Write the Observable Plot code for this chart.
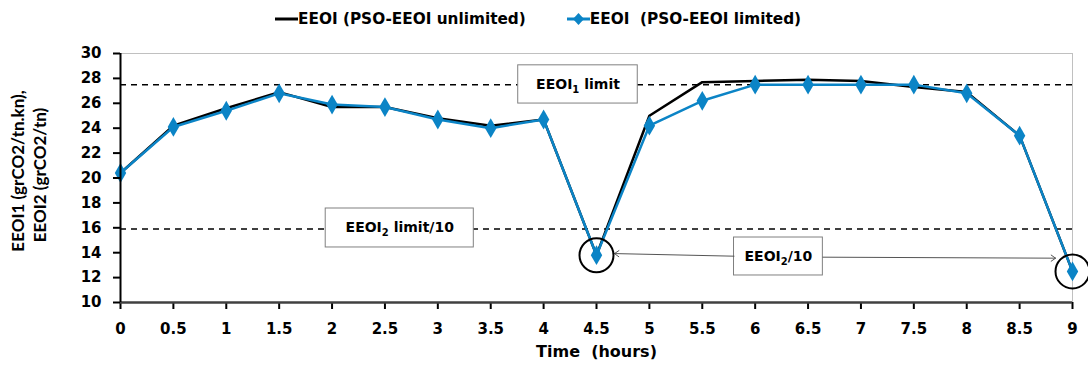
<!DOCTYPE html>
<html>
<head>
<meta charset="utf-8">
<script src="https://cdn.jsdelivr.net/npm/d3@7"></script>
<script src="https://cdn.jsdelivr.net/npm/@observablehq/plot@0.6"></script>
<style>
  body { margin: 0; background: white; font-family: "DejaVu Sans", sans-serif; }
  #legend { height: 38px; display: flex; align-items: center; padding-left: 275px; font-weight: bold; font-size: 15.3px; color: black; white-space: pre; }
  #legend .item { display: flex; align-items: center; }
  #legend .item + .item { margin-left: 41px; }
  svg text { white-space: pre; }
</style>
</head>
<body>
<div id="legend"></div>
<div id="chart"></div>
<script>
// ---- data ----
const hours = [0, 0.5, 1, 1.5, 2, 2.5, 3, 3.5, 4, 4.5, 5, 5.5, 6, 6.5, 7, 7.5, 8, 8.5, 9];
const eeoiUnlimited = [20.4, 24.2, 25.6, 26.9, 25.7, 25.7, 24.8, 24.2, 24.7, 13.8, 25.0, 27.7, 27.8, 27.9, 27.8, 27.3, 26.9, 23.4, 12.5];
const eeoiLimited   = [20.4, 24.1, 25.4, 26.8, 25.9, 25.7, 24.7, 24.0, 24.7, 13.8, 24.2, 26.2, 27.5, 27.5, 27.5, 27.5, 26.8, 23.4, 12.5];
const seriesNames = ["EEOI (PSO-EEOI unlimited)", "EEOI  (PSO-EEOI limited)"];
const xTicks = [0, 0.5, 1, 1.5, 2, 2.5, 3, 3.5, 4, 4.5, 5, 5.5, 6, 6.5, 7, 7.5, 8, 8.5, 9];
const yTicks = [10, 12, 14, 16, 18, 20, 22, 24, 26, 28, 30];
const limitLevels = [27.5, 15.9];
const yLabelLines = ["EEOI1 (grCO2/tn.kn),", "EEOI2 (grCO2/tn)"];
const xLabel = "Time  (hours)";
// annotation boxes (data units)
const boxLabels = ["EEOI_1 limit", "EEOI_2 limit/10", "EEOI_2/10"];
const boxX1 = [3.76, 1.94, 5.80];
const boxX2 = [4.89, 3.34, 6.64];
const boxY1 = [29.05, 17.55, 15.22];
const boxY2 = [25.98, 14.42, 12.17];
// callout circles and arrows (data units)
const circleX = [4.5, 9];
const circleY = [13.8, 12.5];
const arrowX1 = [5.80, 6.64];
const arrowY1 = [13.72, 13.64];
const arrowX2 = [4.67, 8.84];
const arrowY2 = [13.93, 13.56];

const BLUE = "#0b84c6";
const FONT = "'DejaVu Sans', sans-serif";

// ---- tables ----
const unl = hours.map((h, i) => ({x: h, y: eeoiUnlimited[i]}));
const lim = hours.map((h, i) => ({x: h, y: eeoiLimited[i]}));
const boxes = boxLabels.map((t, i) => ({t, x1: boxX1[i], x2: boxX2[i], y1: boxY1[i], y2: boxY2[i], cx: (boxX1[i] + boxX2[i]) / 2, cy: (boxY1[i] + boxY2[i]) / 2}));
const circles = circleX.map((x, i) => ({x, y: circleY[i]}));
const arrows = arrowX1.map((x1, i) => ({x1, y1: arrowY1[i], x2: arrowX2[i], y2: arrowY2[i]}));

// ---- legend ----
const legend = document.getElementById("legend");
legend.innerHTML = `
  <div class="item"><svg width="23" height="10"><line x1="0" y1="5" x2="23" y2="5" stroke="black" stroke-width="3"/></svg><span>${seriesNames[0]}</span></div>
  <div class="item"><svg width="23" height="14"><line x1="0" y1="7" x2="23" y2="7" stroke="${BLUE}" stroke-width="3"/><path d="M11.5,1L17,7L11.5,13L6,7Z" fill="${BLUE}"/></svg><span>${seriesNames[1]}</span></div>`;

// ---- chart ----
const chart = Plot.plot({
  width: 1088,
  height: 329,
  marginTop: 15,
  marginBottom: 65,
  marginLeft: 120,
  marginRight: 16,
  x: {domain: [0, 9]},
  y: {domain: [10, 30]},
  style: {fontFamily: FONT, fontSize: "15px", fontWeight: "bold", color: "black", background: "white"},
  marks: [
    Plot.ruleY([30], {stroke: "#c0c0c0", strokeWidth: 1}),
    Plot.ruleX([9], {stroke: "#c0c0c0", strokeWidth: 1}),
    Plot.ruleY(limitLevels, {stroke: "black", strokeWidth: 1.5, strokeDasharray: "6,5"}),
    Plot.rect(boxes, {x1: "x1", x2: "x2", y1: "y1", y2: "y2", fill: "white", stroke: "#808080", strokeWidth: 1}),
    Plot.text(boxes, {x: "cx", y: "cy", text: "t", fontSize: 14, fontWeight: "bold", fill: "black"}),
    Plot.arrow(arrows, {x1: "x1", y1: "y1", x2: "x2", y2: "y2", stroke: "#555", strokeWidth: 1, headLength: 8, headAngle: 70}),
    Plot.line(unl, {x: "x", y: "y", stroke: "black", strokeWidth: 2.5}),
    Plot.line(lim, {x: "x", y: "y", stroke: BLUE, strokeWidth: 2.5}),
    Plot.dot(lim, {x: "x", y: "y", symbol: "diamond", r: 6, fill: BLUE, stroke: "none"}),
    Plot.dot(circles, {x: "x", y: "y", r: 17, fill: "none", stroke: "black", strokeWidth: 2}),
    Plot.axisX({ticks: xTicks, tickSize: 7, tickPadding: 14, strokeWidth: 2, tickFormat: d => String(d), label: null, fontSize: 15}),
    Plot.axisY({ticks: yTicks, tickSize: 7, tickPadding: 12, strokeWidth: 2, label: null, fontSize: 15}),
    Plot.ruleY([10], {stroke: "#404040", strokeWidth: 2.5}),
    Plot.ruleX([0], {stroke: "black", strokeWidth: 2}),
    Plot.text([yLabelLines[0]], {frameAnchor: "left", textAnchor: "middle", rotate: -90, dx: -102, dy: -7, fontFamily: "Lato, sans-serif", fontSize: 17, fontWeight: "bold", fill: "black"}),
    Plot.text([yLabelLines[1]], {frameAnchor: "left", textAnchor: "middle", rotate: -90, dx: -80, dy: -3, fontFamily: "Lato, sans-serif", fontSize: 17, fontWeight: "bold", fill: "black"}),
    Plot.text([xLabel], {frameAnchor: "bottom", dy: 54, fontSize: 16, fontWeight: "bold", fill: "black"})
  ]
});
document.getElementById("chart").appendChild(chart);

// subscripts for annotation labels
d3.select(chart).selectAll("text").each(function () {
  const el = d3.select(this);
  const s = this.textContent;
  if (!s.includes("_") || this.querySelector("tspan")) return;
  const m = s.match(/^(.*?)_(\d)(.*)$/);
  if (!m) return;
  el.text(null);
  el.append("tspan").text(m[1]);
  el.append("tspan").attr("dy", 4).attr("font-size", 10).text(m[2]);
  el.append("tspan").attr("dy", -4).text(m[3]);
});
</script>
</body>
</html>
